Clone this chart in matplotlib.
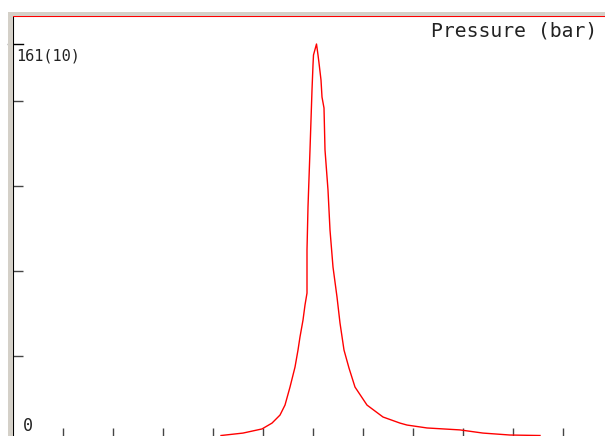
import numpy as np
import matplotlib
matplotlib.use('Agg')
import matplotlib.pyplot as plt
from matplotlib.patches import Rectangle

W, H = 605, 436

# pressure curve (time in tick units, pressure scaled so the max reads 161)
t = [4.16, 4.60, 4.98, 5.18, 5.34, 5.44, 5.54, 5.64, 5.70, 5.74, 5.80, 5.84, 5.88,
     5.88, 5.90, 5.94, 5.96, 5.98, 6.00, 6.01, 6.07, 6.10, 6.12, 6.16, 6.18, 6.22,
     6.24, 6.30, 6.34, 6.40, 6.48, 6.54, 6.62, 6.72, 6.84, 7.08, 7.40, 7.74, 7.88,
     8.28, 8.94, 9.40, 9.94, 10.54]
p = [0.2, 1.2, 2.9, 5.3, 8.6, 12.7, 20.1, 28.3, 35.3, 40.7, 47.6, 53.8, 58.7,
     76.4, 94.1, 117.5, 129.8, 142.1, 152.4, 156.5, 161.0, 156.5, 153.2, 146.2,
     139.2, 134.7, 117.5, 101.0, 84.6, 69.4, 57.1, 46.4, 35.3, 27.9, 20.1, 12.7,
     7.8, 5.3, 4.5, 3.3, 2.5, 1.2, 0.4, 0.2]

ytick_vals = [32.9, 67.8, 102.7, 137.6]
xtick_vals = [1, 2, 3, 4, 5, 6, 7, 8, 9, 10, 11]

fig = plt.figure(figsize=(W / 100, H / 100), dpi=100)
fig.patch.set_facecolor('white')

# grey window frame
grey = '#d4d0c8'
fig.patches.append(Rectangle((8 / W, 0), 5 / W, 1 - 12 / H, transform=fig.transFigure,
                             facecolor=grey, edgecolor='none', zorder=0))
fig.patches.append(Rectangle((8 / W, 1 - 16 / H), 1 - 8 / W, 4 / H, transform=fig.transFigure,
                             facecolor=grey, edgecolor='none', zorder=0))

ax = fig.add_axes([13 / W, 0, 1 - 13 / W, 1 - 16 / H])
ax.plot(t, p, color='red', lw=1.0)

ax.set_xlim(0, (W - 13) / 50)
ax.set_ylim(0, (H - 16) * 161 / 392)

for s in ['bottom', 'right']:
    ax.spines[s].set_visible(False)
ax.spines['top'].set_color('red')
ax.spines['top'].set_linewidth(1.5)
ax.spines['left'].set_color('black')
ax.spines['left'].set_linewidth(1.5)

ax.set_yticks(ytick_vals)
ax.set_xticks(xtick_vals)
ax.tick_params(axis='y', direction='in', length=7.2, width=1, color='#444444', labelleft=False)
ax.tick_params(axis='x', direction='in', length=5.8, width=1, color='#444444', labelbottom=False)

# top tick at the max value
ax.plot([-0.1, 0.2], [161, 161], color='black', lw=1, clip_on=False)

fig.text(16 / W, 1 - 56 / H, '161(10)', family='DejaVu Sans Mono', fontsize=11,
         ha='left', va='center', color='#222222')
fig.text(23 / W, 1 - 426 / H, '0', family='DejaVu Sans Mono', fontsize=12,
         ha='left', va='center', color='#222222')
fig.text(597 / W, 1 - 31 / H, 'Pressure (bar)', family='DejaVu Sans Mono', fontsize=14.2,
         ha='right', va='center', color='#222222')

fig.savefig('out.png', dpi=100)
